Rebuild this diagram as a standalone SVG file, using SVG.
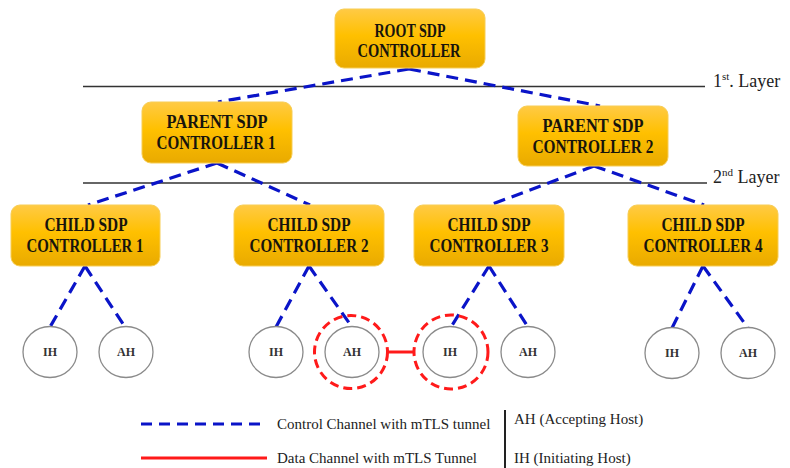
<svg xmlns="http://www.w3.org/2000/svg" width="790" height="468" viewBox="0 0 790 468">
  <defs>
    <linearGradient id="boxFill" x1="0" y1="0" x2="0" y2="1">
      <stop offset="0" stop-color="#ffca45"/>
      <stop offset="0.45" stop-color="#ffc000"/>
      <stop offset="1" stop-color="#e9aa00"/>
    </linearGradient>
  </defs>
  <style>
    .box { fill: url(#boxFill); stroke: #f7cd55; stroke-width: 1; }
    .btxt { font-family: "Liberation Serif", "DejaVu Serif", serif; font-weight: bold; font-size: 18px; fill: #17140c; text-anchor: middle; }
    .host { fill: #ffffff; stroke: #8a8a8a; stroke-width: 1.3; }
    .htxt { font-family: "Liberation Serif", "DejaVu Serif", serif; font-weight: bold; font-size: 12px; fill: #333; text-anchor: middle; }
    .ctrl { stroke: #0a14c8; stroke-width: 3.2; stroke-dasharray: 12 7; fill: none; }
    .data { stroke: #ff1a1a; stroke-width: 3; fill: none; }
    .ring { stroke: #ff1a1a; stroke-width: 3; stroke-dasharray: 9 5; fill: none; }
    .layer { stroke: #333; stroke-width: 1.5; }
    .ltxt { font-family: "Liberation Serif", "Times New Roman", serif; font-size: 18px; fill: #222; }
    .lgtxt { font-family: "Liberation Serif", "Times New Roman", serif; font-size: 15px; fill: #222; }
  </style>

  <!-- layer separators -->
  <g id="layers">
    <line class="layer" x1="83" y1="86.5" x2="705" y2="86.5"/>
    <line class="layer" x1="83" y1="183" x2="707" y2="183"/>
    <text class="ltxt" x="713" y="87">1<tspan font-size="11" dy="-7">st</tspan><tspan dy="7">. Layer</tspan></text>
    <text class="ltxt" x="713" y="183">2<tspan font-size="11" dy="-7">nd</tspan><tspan dy="7"> Layer</tspan></text>
  </g>

  <!-- control and data channels -->
  <g id="connectors">
    <path class="ctrl" d="M409 69 L218 102"/>
    <path class="ctrl" d="M409 69 L600 106"/>
    <path class="ctrl" d="M217 163 L88 205"/>
    <path class="ctrl" d="M217 163 L310 205"/>
    <path class="ctrl" d="M594 166 L490 205"/>
    <path class="ctrl" d="M594 166 L704 205"/>
    <path class="ctrl" d="M85 266 L50 327"/>
    <path class="ctrl" d="M85 266 L125 327"/>
    <path class="ctrl" d="M309 266 L276 327"/>
    <path class="ctrl" d="M309 266 L352 327"/>
    <path class="ctrl" d="M489 266 L451 327"/>
    <path class="ctrl" d="M489 266 L528 327"/>
    <path class="ctrl" d="M703 266 L672 328"/>
    <path class="ctrl" d="M703 266 L748 328"/>
    <line class="data" x1="387" y1="352" x2="414" y2="352"/>
  </g>

  <!-- controllers -->
  <g id="root">
    <rect class="box" x="335" y="9" width="150" height="59" rx="9"/>
    <text class="btxt" x="410" y="37" textLength="71" lengthAdjust="spacingAndGlyphs">ROOT SDP</text>
    <text class="btxt" x="409" y="57" textLength="103" lengthAdjust="spacingAndGlyphs">CONTROLLER</text>
  </g>
  <g id="parent1">
    <rect class="box" x="142" y="102" width="150" height="61" rx="9"/>
    <text class="btxt" x="217" y="128" textLength="101" lengthAdjust="spacingAndGlyphs">PARENT SDP</text>
    <text class="btxt" x="216" y="149" textLength="119" lengthAdjust="spacingAndGlyphs">CONTROLLER 1</text>
  </g>
  <g id="parent2">
    <rect class="box" x="518" y="106" width="150" height="60" rx="9"/>
    <text class="btxt" x="593" y="132" textLength="101" lengthAdjust="spacingAndGlyphs">PARENT SDP</text>
    <text class="btxt" x="593" y="153" textLength="121" lengthAdjust="spacingAndGlyphs">CONTROLLER 2</text>
  </g>
  <g id="child1">
    <rect class="box" x="11" y="205" width="149" height="61" rx="9"/>
    <text class="btxt" x="86" y="231" textLength="83" lengthAdjust="spacingAndGlyphs">CHILD SDP</text>
    <text class="btxt" x="85" y="252" textLength="117" lengthAdjust="spacingAndGlyphs">CONTROLLER 1</text>
  </g>
  <g id="child2">
    <rect class="box" x="234" y="205" width="150" height="61" rx="9"/>
    <text class="btxt" x="309" y="231" textLength="83" lengthAdjust="spacingAndGlyphs">CHILD SDP</text>
    <text class="btxt" x="309" y="252" textLength="119" lengthAdjust="spacingAndGlyphs">CONTROLLER 2</text>
  </g>
  <g id="child3">
    <rect class="box" x="414" y="205" width="150" height="61" rx="9"/>
    <text class="btxt" x="489" y="231" textLength="83" lengthAdjust="spacingAndGlyphs">CHILD SDP</text>
    <text class="btxt" x="489" y="252" textLength="119" lengthAdjust="spacingAndGlyphs">CONTROLLER 3</text>
  </g>
  <g id="child4">
    <rect class="box" x="628" y="205" width="150" height="61" rx="9"/>
    <text class="btxt" x="703" y="231" textLength="83" lengthAdjust="spacingAndGlyphs">CHILD SDP</text>
    <text class="btxt" x="703" y="252" textLength="119" lengthAdjust="spacingAndGlyphs">CONTROLLER 4</text>
  </g>

  <!-- hosts -->
  <g id="ih1"><ellipse class="host" cx="50" cy="352" rx="27" ry="25.5"/><text class="htxt" x="50" y="356">IH</text></g>
  <g id="ah1"><ellipse class="host" cx="126" cy="352" rx="27" ry="25.5"/><text class="htxt" x="126" y="356">AH</text></g>
  <g id="ih2"><ellipse class="host" cx="276" cy="352" rx="27" ry="25.5"/><text class="htxt" x="276" y="356">IH</text></g>
  <g id="ah2">
    <ellipse class="host" cx="352" cy="352" rx="27" ry="25.5"/><text class="htxt" x="352" y="356">AH</text>
    <circle class="ring" cx="351" cy="352" r="36.5"/>
  </g>
  <g id="ih3">
    <ellipse class="host" cx="450" cy="352" rx="27" ry="25.5"/><text class="htxt" x="450" y="356">IH</text>
    <circle class="ring" cx="451" cy="352" r="37"/>
  </g>
  <g id="ah3"><ellipse class="host" cx="528" cy="352" rx="27" ry="25.5"/><text class="htxt" x="528" y="356">AH</text></g>
  <g id="ih4"><ellipse class="host" cx="672" cy="353" rx="27" ry="25.5"/><text class="htxt" x="672" y="357">IH</text></g>
  <g id="ah4"><ellipse class="host" cx="748" cy="353" rx="27" ry="25.5"/><text class="htxt" x="748" y="357">AH</text></g>

  <!-- legend -->
  <g id="legend">
    <line x1="141" y1="424" x2="267" y2="424" stroke="#0a14c8" stroke-width="3" stroke-dasharray="11 7"/>
    <text class="lgtxt" x="277" y="429">Control Channel with mTLS tunnel</text>
    <line x1="141" y1="458" x2="267" y2="458" stroke="#ff1a1a" stroke-width="3"/>
    <text class="lgtxt" x="277" y="463">Data Channel with mTLS Tunnel</text>
    <line x1="505" y1="410" x2="505" y2="468" stroke="#222" stroke-width="2"/>
    <text class="lgtxt" x="514" y="424">AH (Accepting Host)</text>
    <text class="lgtxt" x="514" y="463">IH (Initiating Host)</text>
  </g>
</svg>
